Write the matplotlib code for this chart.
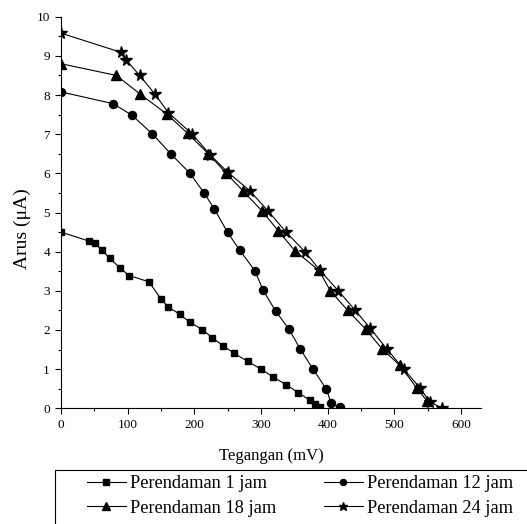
import matplotlib.pyplot as plt
from matplotlib.patches import Rectangle
from matplotlib.ticker import MultipleLocator

plt.rcParams['font.family'] = ['Liberation Serif', 'DejaVu Serif']

# Perendaman 1 jam
x_1 = [0, 42, 51, 62, 73, 89, 102, 132, 150, 161, 178, 193, 212, 227, 243,
       260, 280, 300, 318, 338, 356, 373, 381, 388]
y_1 = [4.5, 4.27, 4.21, 4.03, 3.83, 3.58, 3.39, 3.23, 2.79, 2.59, 2.4, 2.2,
       2.01, 1.8, 1.6, 1.4, 1.2, 1.0, 0.8, 0.6, 0.4, 0.21, 0.12, 0.03]

# Perendaman 12 jam
x_12 = [0, 78, 106, 137, 165, 193, 215, 230, 250, 268, 291, 303, 322, 342,
        359, 378, 398, 405, 418]
y_12 = [8.08, 7.78, 7.49, 7.01, 6.49, 6.01, 5.49, 5.09, 4.49, 4.04, 3.51,
        3.02, 2.48, 2.02, 1.51, 1.0, 0.49, 0.14, 0.03]

# Perendaman 18 jam
x_18 = [0, 83, 119, 159, 190, 221, 248, 273, 301, 326, 351, 387, 404, 430,
        457, 482, 508, 534, 549]
y_18 = [8.8, 8.5, 8.02, 7.51, 7.02, 6.5, 6.0, 5.55, 5.05, 4.53, 4.02, 3.52,
        3.0, 2.5, 2.02, 1.51, 1.1, 0.51, 0.19]

# Perendaman 24 jam
x_24 = [0, 90, 98, 118, 141, 161, 197, 224, 250, 283, 310, 338, 366, 388,
        416, 441, 464, 489, 514, 538, 553, 572]
y_24 = [9.58, 9.09, 8.89, 8.5, 8.02, 7.55, 7.0, 6.47, 6.03, 5.56, 5.05,
        4.49, 4.0, 3.53, 3.0, 2.51, 2.04, 1.51, 1.0, 0.53, 0.17, 0.0]

labels = ['Perendaman 1 jam', 'Perendaman 12 jam',
          'Perendaman 18 jam', 'Perendaman 24 jam']

W, H = 527, 524
fig = plt.figure(figsize=(W / 100, H / 100), dpi=100)

ax = fig.add_axes([61 / W, 1 - 408.3 / H, 420 / W, 391.6 / H])

l1, = ax.plot(x_1, y_1, color='black', lw=0.8, marker='s', ms=5, label=labels[0])
l12, = ax.plot(x_12, y_12, color='black', lw=0.8, marker='o', ms=5.8, label=labels[1])
l18, = ax.plot(x_18, y_18, color='black', lw=0.8, marker='^', ms=6.8, label=labels[2])
l24, = ax.plot(x_24, y_24, color='black', lw=0.8, marker='*', ms=8.5, label=labels[3])

ax.set_xlim(0, 630)
ax.set_ylim(0, 10)
ax.xaxis.set_major_locator(MultipleLocator(100))
ax.xaxis.set_minor_locator(MultipleLocator(50))
ax.yaxis.set_major_locator(MultipleLocator(1))
ax.yaxis.set_minor_locator(MultipleLocator(0.5))
ax.spines['top'].set_visible(False)
ax.spines['right'].set_visible(False)
ax.tick_params(which='major', direction='out', length=4, width=0.8,
               labelsize=9.5, pad=4)
ax.tick_params(which='minor', direction='out', length=2.5, width=0.8)

ax.set_xlabel('Tegangan (mV)', fontsize=12, labelpad=12)
ax.set_ylabel('Arus (μA)', fontsize=14)
ax.yaxis.set_label_coords(-0.072, 0.46)

# legend box, open to the right and bottom edges
fig.patches.append(Rectangle((55 / W, -0.05), 1.0, 1 - 470 / H + 0.05,
                             transform=fig.transFigure, facecolor='white',
                             edgecolor='black', lw=0.8))
fig.legend([l1, l18, l12, l24], [labels[0], labels[2], labels[1], labels[3]],
           loc='upper left', ncol=2, bbox_to_anchor=(87 / W, 1 - 475 / H),
           fontsize=13.2, frameon=False, borderpad=0, borderaxespad=0,
           handlelength=2.1, handletextpad=0.25, columnspacing=2.6,
           labelspacing=0.42, markerscale=0.75)

fig.savefig('out.png', dpi=100)
